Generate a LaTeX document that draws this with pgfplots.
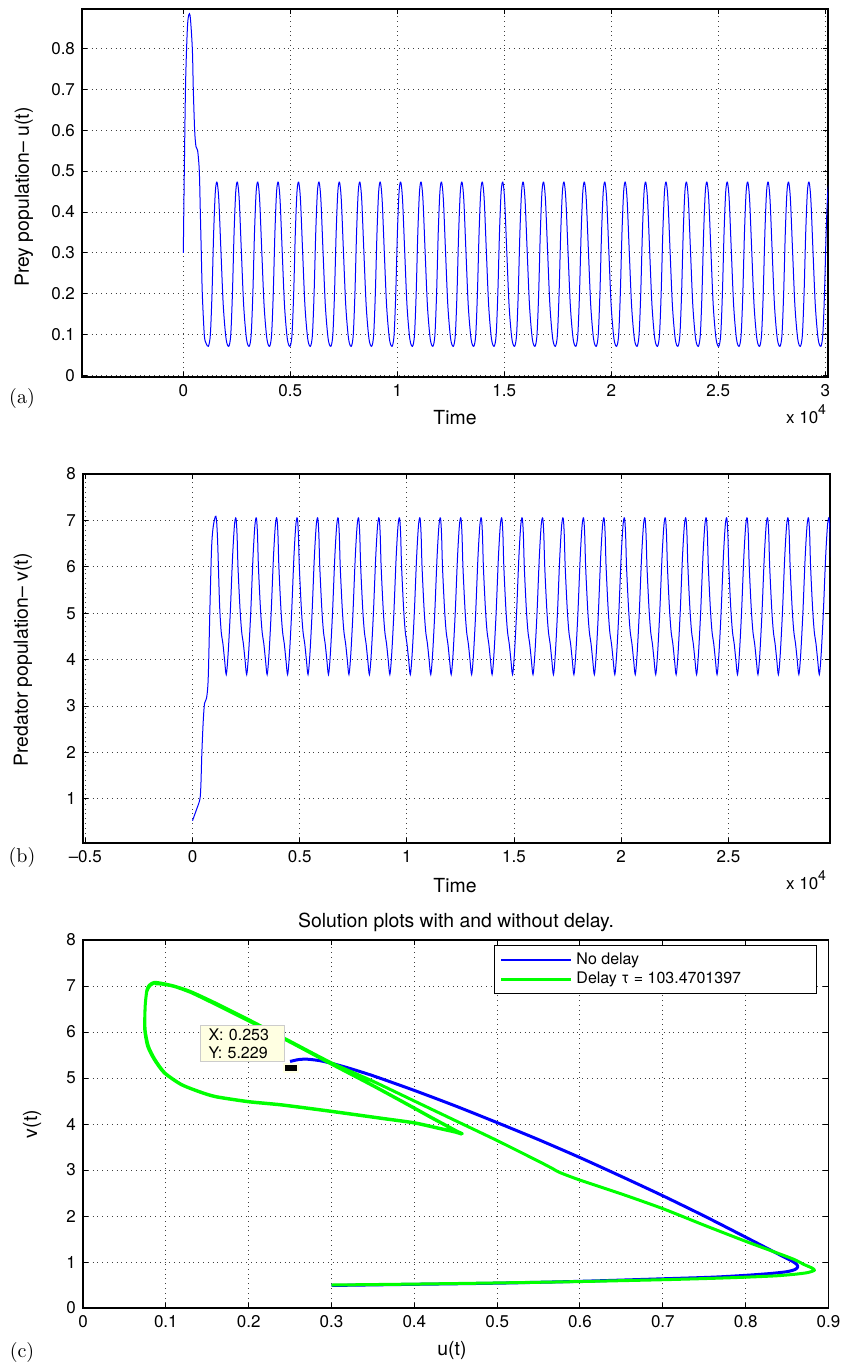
\documentclass[border=0pt]{standalone}
\usepackage{pgfplots}
\pgfplotsset{compat=1.18}
\usepackage{fontspec}
\newfontfamily\hv{TeX Gyre Heros}
\definecolor{mblue}{RGB}{0,0,255}
\definecolor{mgreen}{RGB}{0,255,0}
\definecolor{tipbg}{RGB}{255,255,226}

\pgfplotsset{
  mlab/.style={
    scale only axis, anchor=north west,
    axis line style={line width=0.6pt},
    tick align=inside, major tick length=2.5pt,
    every tick/.style={black, line width=0.5pt},
    grid=major,
    major grid style={dotted, black!75, line width=0.5pt},
    ticklabel style={font=\fontsize{8.5}{10}\selectfont\hv},
    scaled ticks=false,
  },
}
\newcommand{\lab}{\fontsize{9.7}{11}\selectfont\hv}
\newcommand{\tenfour}{{\fontsize{8.5}{10}\selectfont\hv x 10\raisebox{4.5pt}{\fontsize{7}{8}\selectfont 4}}}

\begin{document}
\begin{tikzpicture}
\useasboundingbox (0pt,0pt) rectangle (425pt,-682.5pt);

% (a) prey
\begin{axis}[mlab, at={(41pt,-4.5pt)}, width=373pt, height=184pt,
  xmin=-4734, xmax=30126, ymin=-0.003, ymax=0.896,
  xtick={0,5000,10000,15000,20000,25000,30000},
  xticklabels={0,0.5,1,1.5,2,2.5,3},
  ytick={0,0.1,0.2,0.3,0.4,0.5,0.6,0.7,0.8},
  yticklabels={0,0.1,0.2,0.3,0.4,0.5,0.6,0.7,0.8}]
\addplot[mblue, line width=0.5pt, smooth, tension=0.5] coordinates {
(0,0.30)(47,0.50)(109,0.72)(203,0.86)(312,0.881)(421,0.80)(467,0.70)(530,0.60)(592,0.56)(670,0.55)(748,0.50)(795,0.40)(841,0.30)(888,0.20)(981,0.10)(1059,0.08)
(1169,0.072)(1263,0.10)(1341,0.20)(1419,0.35)(1497,0.45)(1575,0.473)(1659,0.43)(1762,0.30)(1869,0.17)(1999,0.09)
(2123,0.072)(2217,0.10)(2295,0.20)(2373,0.35)(2451,0.45)(2529,0.473)(2613,0.43)(2716,0.30)(2823,0.17)(2953,0.09)
(3077,0.072)(3171,0.10)(3249,0.20)(3327,0.35)(3405,0.45)(3483,0.473)(3567,0.43)(3670,0.30)(3777,0.17)(3907,0.09)
(4031,0.072)(4125,0.10)(4203,0.20)(4281,0.35)(4359,0.45)(4437,0.473)(4521,0.43)(4624,0.30)(4731,0.17)(4861,0.09)
(4985,0.072)(5079,0.10)(5157,0.20)(5235,0.35)(5313,0.45)(5391,0.473)(5475,0.43)(5578,0.30)(5685,0.17)(5815,0.09)
(5939,0.072)(6033,0.10)(6111,0.20)(6189,0.35)(6267,0.45)(6345,0.473)(6429,0.43)(6532,0.30)(6639,0.17)(6769,0.09)
(6893,0.072)(6987,0.10)(7065,0.20)(7143,0.35)(7221,0.45)(7299,0.473)(7383,0.43)(7486,0.30)(7593,0.17)(7723,0.09)
(7847,0.072)(7941,0.10)(8019,0.20)(8097,0.35)(8175,0.45)(8253,0.473)(8337,0.43)(8440,0.30)(8547,0.17)(8677,0.09)
(8801,0.072)(8895,0.10)(8973,0.20)(9051,0.35)(9129,0.45)(9207,0.473)(9291,0.43)(9394,0.30)(9501,0.17)(9631,0.09)
(9755,0.072)(9849,0.10)(9927,0.20)(10005,0.35)(10083,0.45)(10161,0.473)(10245,0.43)(10348,0.30)(10455,0.17)(10585,0.09)
(10709,0.072)(10803,0.10)(10881,0.20)(10959,0.35)(11037,0.45)(11115,0.473)(11199,0.43)(11302,0.30)(11409,0.17)(11539,0.09)
(11663,0.072)(11757,0.10)(11835,0.20)(11913,0.35)(11991,0.45)(12069,0.473)(12153,0.43)(12256,0.30)(12363,0.17)(12493,0.09)
(12617,0.072)(12711,0.10)(12789,0.20)(12867,0.35)(12945,0.45)(13023,0.473)(13107,0.43)(13210,0.30)(13317,0.17)(13447,0.09)
(13571,0.072)(13665,0.10)(13743,0.20)(13821,0.35)(13899,0.45)(13977,0.473)(14061,0.43)(14164,0.30)(14271,0.17)(14401,0.09)
(14525,0.072)(14619,0.10)(14697,0.20)(14775,0.35)(14853,0.45)(14931,0.473)(15015,0.43)(15118,0.30)(15225,0.17)(15355,0.09)
(15479,0.072)(15573,0.10)(15651,0.20)(15729,0.35)(15807,0.45)(15885,0.473)(15969,0.43)(16072,0.30)(16179,0.17)(16309,0.09)
(16433,0.072)(16527,0.10)(16605,0.20)(16683,0.35)(16761,0.45)(16839,0.473)(16923,0.43)(17026,0.30)(17133,0.17)(17263,0.09)
(17387,0.072)(17481,0.10)(17559,0.20)(17637,0.35)(17715,0.45)(17793,0.473)(17877,0.43)(17980,0.30)(18087,0.17)(18217,0.09)
(18341,0.072)(18435,0.10)(18513,0.20)(18591,0.35)(18669,0.45)(18747,0.473)(18831,0.43)(18934,0.30)(19041,0.17)(19171,0.09)
(19295,0.072)(19389,0.10)(19467,0.20)(19545,0.35)(19623,0.45)(19701,0.473)(19785,0.43)(19888,0.30)(19995,0.17)(20125,0.09)
(20249,0.072)(20343,0.10)(20421,0.20)(20499,0.35)(20577,0.45)(20655,0.473)(20739,0.43)(20842,0.30)(20949,0.17)(21079,0.09)
(21203,0.072)(21297,0.10)(21375,0.20)(21453,0.35)(21531,0.45)(21609,0.473)(21693,0.43)(21796,0.30)(21903,0.17)(22033,0.09)
(22157,0.072)(22251,0.10)(22329,0.20)(22407,0.35)(22485,0.45)(22563,0.473)(22647,0.43)(22750,0.30)(22857,0.17)(22987,0.09)
(23111,0.072)(23205,0.10)(23283,0.20)(23361,0.35)(23439,0.45)(23517,0.473)(23601,0.43)(23704,0.30)(23811,0.17)(23941,0.09)
(24065,0.072)(24159,0.10)(24237,0.20)(24315,0.35)(24393,0.45)(24471,0.473)(24555,0.43)(24658,0.30)(24765,0.17)(24895,0.09)
(25019,0.072)(25113,0.10)(25191,0.20)(25269,0.35)(25347,0.45)(25425,0.473)(25509,0.43)(25612,0.30)(25719,0.17)(25849,0.09)
(25973,0.072)(26067,0.10)(26145,0.20)(26223,0.35)(26301,0.45)(26379,0.473)(26463,0.43)(26566,0.30)(26673,0.17)(26803,0.09)
(26927,0.072)(27021,0.10)(27099,0.20)(27177,0.35)(27255,0.45)(27333,0.473)(27417,0.43)(27520,0.30)(27627,0.17)(27757,0.09)
(27881,0.072)(27975,0.10)(28053,0.20)(28131,0.35)(28209,0.45)(28287,0.473)(28371,0.43)(28474,0.30)(28581,0.17)(28711,0.09)
(28835,0.072)(28929,0.10)(29007,0.20)(29085,0.35)(29163,0.45)(29241,0.473)(29325,0.43)(29428,0.30)(29535,0.17)(29665,0.09)
(29789,0.072)(29883,0.10)(29961,0.20)(30039,0.35)(30117,0.45)(30195,0.473)
};
\end{axis}
\node[rotate=90] at (12pt,-98.5pt) {\lab Prey population– u(t)};
\node at (227.5pt,-209pt) {\lab Time};
\node[anchor=base west] at (389.5pt,-211.5pt) {\tenfour};
\node at (11pt,-199pt) {\fontsize{10}{12}\selectfont (a)};

% (b) predator
\begin{axis}[mlab, at={(41.5pt,-237pt)}, width=373.5pt, height=184.5pt,
  xmin=-5107, xmax=29740, ymin=0.05, ymax=8,
  xtick={-5000,0,5000,10000,15000,20000,25000},
  xticklabels={–0.5,0,0.5,1,1.5,2,2.5},
  ytick={1,2,3,4,5,6,7,8},
  yticklabels={1,2,3,4,5,6,7,8}]
\addplot[mblue, line width=0.5pt, smooth, tension=0.5] coordinates {
(0,0.53)(188,0.77)(344,0.99)(391,1.28)(438,2.0)(500,2.66)(563,3.06)(656,3.17)(734,3.6)(813,5.1)(891,6.4)(969,6.87)(1094,7.09)
(1169,6.6)(1263,5.2)(1341,4.6)(1419,4.35)(1497,4.0)(1575,3.68)(1659,4.1)(1762,5.0)(1869,6.2)(1959,6.9)(2029,7.05)(2079,6.7)
(2123,6.0)(2217,5.1)(2295,4.6)(2373,4.35)(2451,4.0)(2529,3.68)(2613,4.1)(2716,5.0)(2823,6.2)(2913,6.9)(2983,7.05)(3033,6.7)
(3077,6.0)(3171,5.1)(3249,4.6)(3327,4.35)(3405,4.0)(3483,3.68)(3567,4.1)(3670,5.0)(3777,6.2)(3867,6.9)(3937,7.05)(3987,6.7)
(4031,6.0)(4125,5.1)(4203,4.6)(4281,4.35)(4359,4.0)(4437,3.68)(4521,4.1)(4624,5.0)(4731,6.2)(4821,6.9)(4891,7.05)(4941,6.7)
(4985,6.0)(5079,5.1)(5157,4.6)(5235,4.35)(5313,4.0)(5391,3.68)(5475,4.1)(5578,5.0)(5685,6.2)(5775,6.9)(5845,7.05)(5895,6.7)
(5939,6.0)(6033,5.1)(6111,4.6)(6189,4.35)(6267,4.0)(6345,3.68)(6429,4.1)(6532,5.0)(6639,6.2)(6729,6.9)(6799,7.05)(6849,6.7)
(6893,6.0)(6987,5.1)(7065,4.6)(7143,4.35)(7221,4.0)(7299,3.68)(7383,4.1)(7486,5.0)(7593,6.2)(7683,6.9)(7753,7.05)(7803,6.7)
(7847,6.0)(7941,5.1)(8019,4.6)(8097,4.35)(8175,4.0)(8253,3.68)(8337,4.1)(8440,5.0)(8547,6.2)(8637,6.9)(8707,7.05)(8757,6.7)
(8801,6.0)(8895,5.1)(8973,4.6)(9051,4.35)(9129,4.0)(9207,3.68)(9291,4.1)(9394,5.0)(9501,6.2)(9591,6.9)(9661,7.05)(9711,6.7)
(9755,6.0)(9849,5.1)(9927,4.6)(10005,4.35)(10083,4.0)(10161,3.68)(10245,4.1)(10348,5.0)(10455,6.2)(10545,6.9)(10615,7.05)(10665,6.7)
(10709,6.0)(10803,5.1)(10881,4.6)(10959,4.35)(11037,4.0)(11115,3.68)(11199,4.1)(11302,5.0)(11409,6.2)(11499,6.9)(11569,7.05)(11619,6.7)
(11663,6.0)(11757,5.1)(11835,4.6)(11913,4.35)(11991,4.0)(12069,3.68)(12153,4.1)(12256,5.0)(12363,6.2)(12453,6.9)(12523,7.05)(12573,6.7)
(12617,6.0)(12711,5.1)(12789,4.6)(12867,4.35)(12945,4.0)(13023,3.68)(13107,4.1)(13210,5.0)(13317,6.2)(13407,6.9)(13477,7.05)(13527,6.7)
(13571,6.0)(13665,5.1)(13743,4.6)(13821,4.35)(13899,4.0)(13977,3.68)(14061,4.1)(14164,5.0)(14271,6.2)(14361,6.9)(14431,7.05)(14481,6.7)
(14525,6.0)(14619,5.1)(14697,4.6)(14775,4.35)(14853,4.0)(14931,3.68)(15015,4.1)(15118,5.0)(15225,6.2)(15315,6.9)(15385,7.05)(15435,6.7)
(15479,6.0)(15573,5.1)(15651,4.6)(15729,4.35)(15807,4.0)(15885,3.68)(15969,4.1)(16072,5.0)(16179,6.2)(16269,6.9)(16339,7.05)(16389,6.7)
(16433,6.0)(16527,5.1)(16605,4.6)(16683,4.35)(16761,4.0)(16839,3.68)(16923,4.1)(17026,5.0)(17133,6.2)(17223,6.9)(17293,7.05)(17343,6.7)
(17387,6.0)(17481,5.1)(17559,4.6)(17637,4.35)(17715,4.0)(17793,3.68)(17877,4.1)(17980,5.0)(18087,6.2)(18177,6.9)(18247,7.05)(18297,6.7)
(18341,6.0)(18435,5.1)(18513,4.6)(18591,4.35)(18669,4.0)(18747,3.68)(18831,4.1)(18934,5.0)(19041,6.2)(19131,6.9)(19201,7.05)(19251,6.7)
(19295,6.0)(19389,5.1)(19467,4.6)(19545,4.35)(19623,4.0)(19701,3.68)(19785,4.1)(19888,5.0)(19995,6.2)(20085,6.9)(20155,7.05)(20205,6.7)
(20249,6.0)(20343,5.1)(20421,4.6)(20499,4.35)(20577,4.0)(20655,3.68)(20739,4.1)(20842,5.0)(20949,6.2)(21039,6.9)(21109,7.05)(21159,6.7)
(21203,6.0)(21297,5.1)(21375,4.6)(21453,4.35)(21531,4.0)(21609,3.68)(21693,4.1)(21796,5.0)(21903,6.2)(21993,6.9)(22063,7.05)(22113,6.7)
(22157,6.0)(22251,5.1)(22329,4.6)(22407,4.35)(22485,4.0)(22563,3.68)(22647,4.1)(22750,5.0)(22857,6.2)(22947,6.9)(23017,7.05)(23067,6.7)
(23111,6.0)(23205,5.1)(23283,4.6)(23361,4.35)(23439,4.0)(23517,3.68)(23601,4.1)(23704,5.0)(23811,6.2)(23901,6.9)(23971,7.05)(24021,6.7)
(24065,6.0)(24159,5.1)(24237,4.6)(24315,4.35)(24393,4.0)(24471,3.68)(24555,4.1)(24658,5.0)(24765,6.2)(24855,6.9)(24925,7.05)(24975,6.7)
(25019,6.0)(25113,5.1)(25191,4.6)(25269,4.35)(25347,4.0)(25425,3.68)(25509,4.1)(25612,5.0)(25719,6.2)(25809,6.9)(25879,7.05)(25929,6.7)
(25973,6.0)(26067,5.1)(26145,4.6)(26223,4.35)(26301,4.0)(26379,3.68)(26463,4.1)(26566,5.0)(26673,6.2)(26763,6.9)(26833,7.05)(26883,6.7)
(26927,6.0)(27021,5.1)(27099,4.6)(27177,4.35)(27255,4.0)(27333,3.68)(27417,4.1)(27520,5.0)(27627,6.2)(27717,6.9)(27787,7.05)(27837,6.7)
(27881,6.0)(27975,5.1)(28053,4.6)(28131,4.35)(28209,4.0)(28287,3.68)(28371,4.1)(28474,5.0)(28581,6.2)(28671,6.9)(28741,7.05)(28791,6.7)
(28835,6.0)(28929,5.1)(29007,4.6)(29085,4.35)(29163,4.0)(29241,3.68)(29325,4.1)(29428,5.0)(29535,6.2)(29625,6.9)(29695,7.05)(29745,6.7)
(29789,6.0)(29883,5.1)(29961,4.6)
};
\end{axis}
\node[rotate=90] at (11.5pt,-330pt) {\lab Predator population– v(t)};
\node at (227.5pt,-443pt) {\lab Time};
\node[anchor=base west] at (389.5pt,-444.5pt) {\tenfour};
\node at (11pt,-428.5pt) {\fontsize{10}{12}\selectfont (b)};

% (c) phase plane
\begin{axis}[mlab, at={(41.5pt,-470pt)}, width=372.75pt, height=184pt,
  xmin=0, xmax=0.9, ymin=0, ymax=8,
  xtick={0,0.1,0.2,0.3,0.4,0.5,0.6,0.7,0.8,0.9},
  xticklabels={0,0.1,0.2,0.3,0.4,0.5,0.6,0.7,0.8,0.9},
  ytick={0,1,2,3,4,5,6,7,8},
  yticklabels={0,1,2,3,4,5,6,7,8},
  legend style={at={(1,1)}, anchor=north east, xshift=-5.75pt, yshift=-2.5pt,
    draw=black, line width=0.5pt, font=\fontsize{8}{9.5}\selectfont\hv,
    inner xsep=3pt, inner ysep=1.5pt, row sep=-1.5pt, cells={anchor=west}},
  legend image code/.code={\draw[#1, line width=1.1pt] (0pt,0pt) -- (35pt,0pt);}]
\addplot[mblue, line width=1.5pt, line join=round, smooth, tension=0.4] coordinates {
(0.300,0.49)(0.40,0.515)(0.50,0.54)(0.60,0.58)(0.70,0.635)(0.76,0.67)(0.80,0.71)(0.83,0.75)(0.85,0.79)(0.860,0.84)(0.863,0.90)(0.861,0.96)(0.855,1.03)(0.845,1.12)
(0.80,1.54)(0.75,2.00)(0.70,2.44)(0.65,2.86)(0.60,3.27)(0.55,3.66)(0.50,4.03)(0.45,4.39)(0.40,4.73)(0.35,5.05)(0.32,5.22)(0.30,5.32)(0.285,5.38)(0.27,5.41)(0.26,5.40)(0.25,5.36)
};
\addlegendentry{No delay}
\addplot[mgreen, line width=1.5pt, line join=round, smooth, tension=0.4] coordinates {
(0.300,0.50)(0.40,0.52)(0.50,0.545)(0.60,0.575)(0.70,0.615)(0.76,0.645)(0.80,0.67)(0.837,0.70)(0.86,0.735)(0.875,0.77)(0.883,0.82)(0.880,0.87)(0.870,0.95)(0.858,1.06)
(0.83,1.25)(0.80,1.45)(0.75,1.80)(0.70,2.16)(0.65,2.48)(0.60,2.78)(0.575,2.95)(0.567,3.03)(0.55,3.19)(0.50,3.64)(0.45,4.07)(0.40,4.50)(0.35,4.93)(0.30,5.33)
(0.25,5.80)(0.20,6.27)(0.16,6.63)(0.13,6.88)(0.11,7.0)(0.095,7.06)(0.086,7.08)(0.080,7.02)(0.077,6.90)(0.075,6.55)(0.075,6.05)(0.079,5.69)(0.087,5.40)(0.099,5.11)
(0.119,4.86)(0.14,4.71)(0.16,4.60)(0.20,4.49)(0.24,4.42)(0.30,4.28)(0.36,4.13)(0.40,4.03)(0.43,3.91)(0.45,3.83)(0.458,3.79)
(0.45,3.86)(0.42,4.15)(0.40,4.35)(0.35,4.84)(0.30,5.31)(0.25,5.79)(0.20,6.25)(0.16,6.61)(0.13,6.86)(0.11,6.99)(0.095,7.05)(0.087,7.07)(0.081,7.01)(0.077,6.88)
(0.075,6.55)(0.0745,6.05)(0.078,5.69)(0.086,5.40)(0.098,5.11)(0.118,4.86)(0.14,4.70)(0.16,4.59)(0.20,4.48)(0.24,4.41)(0.30,4.27)(0.36,4.12)(0.40,4.02)(0.43,3.90)(0.45,3.82)(0.457,3.78)
(0.45,3.85)(0.42,4.14)(0.40,4.34)(0.35,4.83)(0.30,5.30)(0.25,5.78)(0.20,6.24)(0.16,6.60)(0.13,6.86)(0.11,6.99)(0.095,7.04)(0.087,7.05)
};
\addlegendentry{\makebox[115pt][l]{Delay τ = 103.4701397}}
\node[fill=tipbg, draw=black!20, align=left, text width=34pt, inner xsep=4pt, inner ysep=1.5pt,
  font=\fontsize{8}{9}\selectfont\hv] at (axis cs:0.1926,5.75) {X: 0.253\\Y: 5.229};
\addplot[only marks, mark=square*, mark size=2pt,
  mark options={fill=black, draw=tipbg, line width=0.8pt, xscale=1.7}] coordinates {(0.251,5.22)};
\end{axis}
\node at (228pt,-461pt) {\lab Solution plots with and without delay.};
\node[rotate=90] at (16pt,-562pt) {\lab v(t)};
\node at (226pt,-675pt) {\lab u(t)};
\node at (11pt,-676pt) {\fontsize{10}{12}\selectfont (c)};
\end{tikzpicture}
\end{document}
